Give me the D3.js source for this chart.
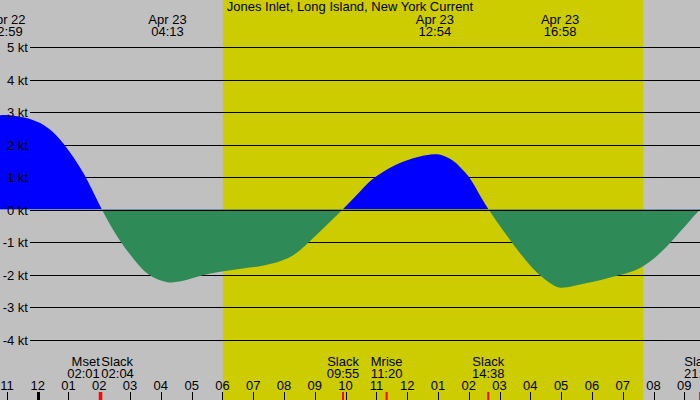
<!DOCTYPE html>
<html>

<head>
    <title>Jones Inlet Current</title>
    <script src='https://cdn.jsdelivr.net/npm/d3@7'></script>
    <style type='text/css'>
        html,
        body {
            margin: 0;
            padding: 0;
            overflow: hidden;
            background: #c0c0c0;
        }

        svg {
            display: block;
        }

        text {
            font-family: 'Liberation Sans', Arial, sans-serif;
            font-size: 13px;
            fill: black;
        }
    </style>
</head>

<body>
    <script>
        // Data (hours are counted from Apr 23 00:00):
        const title = 'Jones Inlet, Long Island, New York Current';
        const tideHours = [-1.23, -1.017, -0.153, 0.40, 0.82, 1.28, 1.60, 2.067, 2.67, 3.10, 3.55, 4.217,
            4.85, 5.50, 6.57, 7.12, 7.64, 8.19, 8.52, 8.84, 9.27, 9.917, 10.57, 10.89, 11.66,
            12.09, 12.42, 12.90, 13.16, 13.39, 13.62, 13.81, 14.04, 14.27, 14.633,
            15.11, 15.66, 16.21, 16.74, 16.967, 17.39, 17.84, 18.26, 18.68, 19.14,
            19.56, 19.89, 20.21, 20.54, 20.86, 21.19, 21.51];
        const tideKnots = [2.90, 2.92, 2.80, 2.50, 2.07, 1.45, 0.95, 0, -1.0, -1.5, -2.03, -2.30,
            -2.18, -1.97, -1.82, -1.77, -1.67, -1.49, -1.26, -0.98, -0.59, 0, 0.66, 0.98, 1.41,
            1.55, 1.64, 1.72, 1.67, 1.57, 1.42, 1.21, 0.98, 0.59, 0,
            -0.64, -1.35, -1.97, -2.34, -2.44, -2.36, -2.26, -2.18, -2.07, -1.97,
            -1.82, -1.61, -1.35, -1.04, -0.69, -0.33, 0];
        const extremeDays = ['Apr 22', 'Apr 23', 'Apr 23', 'Apr 23'];
        const extremeTimes = ['22:59', '04:13', '12:54', '16:58'];
        const eventNames = ['Mset', 'Slack', 'Slack', 'Mrise', 'Slack', 'Slack'];
        const eventTimes = ['02:01', '02:04', '09:55', '11:20', '14:38', '21:31'];
        const knotTicks = [5, 4, 3, 2, 1, 0, -1, -2, -3, -4];
        const sunrise = '06:01';
        const sunset = '19:40';

        // page setup and dimensions:
        const width = 700;
        const height = 400;
        const svg = d3.select('body').append('svg')
            .attr('width', width)
            .attr('height', height);

        const base = new Date(2024, 3, 23, 0, 0);
        let atHour = (h) => new Date(base.getTime() + h * 3600000);
        let parseClock = (s, day) => {
            const [hh, mm] = s.split(':').map(Number);
            return hh + mm / 60 + (day === 'Apr 22' ? -24 : 0);
        };

        // scales:
        const x = d3.scaleTime()
            .domain([atHour(-1.224), atHour(21.51)])
            .range([0, width]);
        const y = d3.scaleLinear()
            .domain([-4, 5])
            .range([339.5, 47]);

        // background and daylight:
        svg.append('rect')
            .attr('width', width).attr('height', height)
            .attr('fill', '#c0c0c0');
        svg.append('rect')
            .attr('x', x(atHour(parseClock(sunrise))))
            .attr('width', x(atHour(parseClock(sunset))) - x(atHour(parseClock(sunrise))))
            .attr('y', 0).attr('height', height)
            .attr('fill', '#cccc00');

        // grid lines:
        svg.append('g').selectAll('line')
            .data(knotTicks).join('line')
            .attr('x1', 30).attr('x2', width)
            .attr('y1', d => Math.round(y(d)) + 0.5)
            .attr('y2', d => Math.round(y(d)) + 0.5)
            .attr('stroke', 'black');

        // current area, split into flood (blue) and ebb (green):
        const points = tideHours.map((h, i) => ({ t: atHour(h), v: tideKnots[i] }));
        const area = d3.area()
            .x(d => x(d.t))
            .y0(y(0))
            .y1(d => y(d.v))
            .curve(d3.curveBasis);

        const defs = svg.append('defs');
        defs.append('clipPath').attr('id', 'above')
            .append('rect').attr('x', 0).attr('y', 0).attr('width', width).attr('height', y(0));
        defs.append('clipPath').attr('id', 'below')
            .append('rect').attr('x', 0).attr('y', y(0)).attr('width', width).attr('height', height - y(0));

        svg.append('path')
            .datum(points)
            .attr('d', area)
            .attr('fill', '#0000ff')
            .attr('clip-path', 'url(#above)');
        svg.append('path')
            .datum(points)
            .attr('d', area)
            .attr('fill', '#2e8b57')
            .attr('clip-path', 'url(#below)');

        // zero line on top
        svg.append('line')
            .attr('x1', 30).attr('x2', width)
            .attr('y1', Math.round(y(0)) + 0.5).attr('y2', Math.round(y(0)) + 0.5)
            .attr('stroke', 'black');

        // knot labels (over the fill):
        svg.append('g').selectAll('text')
            .data(knotTicks).join('text')
            .attr('x', 28)
            .attr('y', d => Math.round(y(d)) + 5)
            .attr('text-anchor', 'end')
            .text(d => `${d} kt`);

        // title:
        svg.append('text')
            .attr('x', 350).attr('y', 11)
            .attr('text-anchor', 'middle')
            .text(title);

        // max / min labels at top:
        const extremes = svg.append('g').selectAll('g')
            .data(extremeTimes.map((t, i) => ({ day: extremeDays[i], time: t })))
            .join('g')
            .attr('transform', d => `translate(${x(atHour(parseClock(d.time, d.day)))}, 0)`);
        extremes.append('text')
            .attr('y', 24).attr('text-anchor', 'middle')
            .text(d => d.day);
        extremes.append('text')
            .attr('y', 36).attr('text-anchor', 'middle')
            .text(d => d.time);

        // hour ticks along the bottom:
        const hours = d3.timeHour.range(x.domain()[0], x.domain()[1]);
        const hourFmt = d3.timeFormat('%I');
        const hourAxis = svg.append('g');
        hourAxis.selectAll('line')
            .data(hours).join('line')
            .attr('x1', d => Math.round(x(d)) + 0.5)
            .attr('x2', d => Math.round(x(d)) + 0.5)
            .attr('y1', 392).attr('y2', height)
            .attr('stroke', 'black')
            .attr('stroke-width', d => d.getHours() === 0 ? 3 : 1);
        hourAxis.selectAll('text')
            .data(hours).join('text')
            .attr('x', d => x(d))
            .attr('y', 390)
            .attr('text-anchor', 'middle')
            .text(hourFmt);

        // slack & moon events:
        const events = eventNames.map((n, i) => ({ name: n, h: parseClock(eventTimes[i]), time: eventTimes[i] }));
        events.forEach((e, i) => {          // push crowded labels apart
            const prev = events[i - 1], next = events[i + 1];
            e.anchor = 'middle';
            if (next && next.h - e.h < 0.5) e.anchor = 'end';
            if (prev && e.h - prev.h < 0.5) e.anchor = 'start';
        });
        const ev = svg.append('g');
        ev.selectAll('line')
            .data(events).join('line')
            .attr('x1', d => x(atHour(d.h)))
            .attr('x2', d => x(atHour(d.h)))
            .attr('y1', 392).attr('y2', height)
            .attr('stroke', 'red')
            .attr('stroke-width', 2);
        const evLabel = ev.selectAll('g')
            .data(events).join('g')
            .attr('transform', d => `translate(${x(atHour(d.h))}, 0)`);
        evLabel.append('text')
            .attr('y', 366).attr('text-anchor', d => d.anchor)
            .text(d => d.name);
        evLabel.append('text')
            .attr('y', 378).attr('text-anchor', d => d.anchor)
            .text(d => d.time);
    </script>
</body>

</html>
